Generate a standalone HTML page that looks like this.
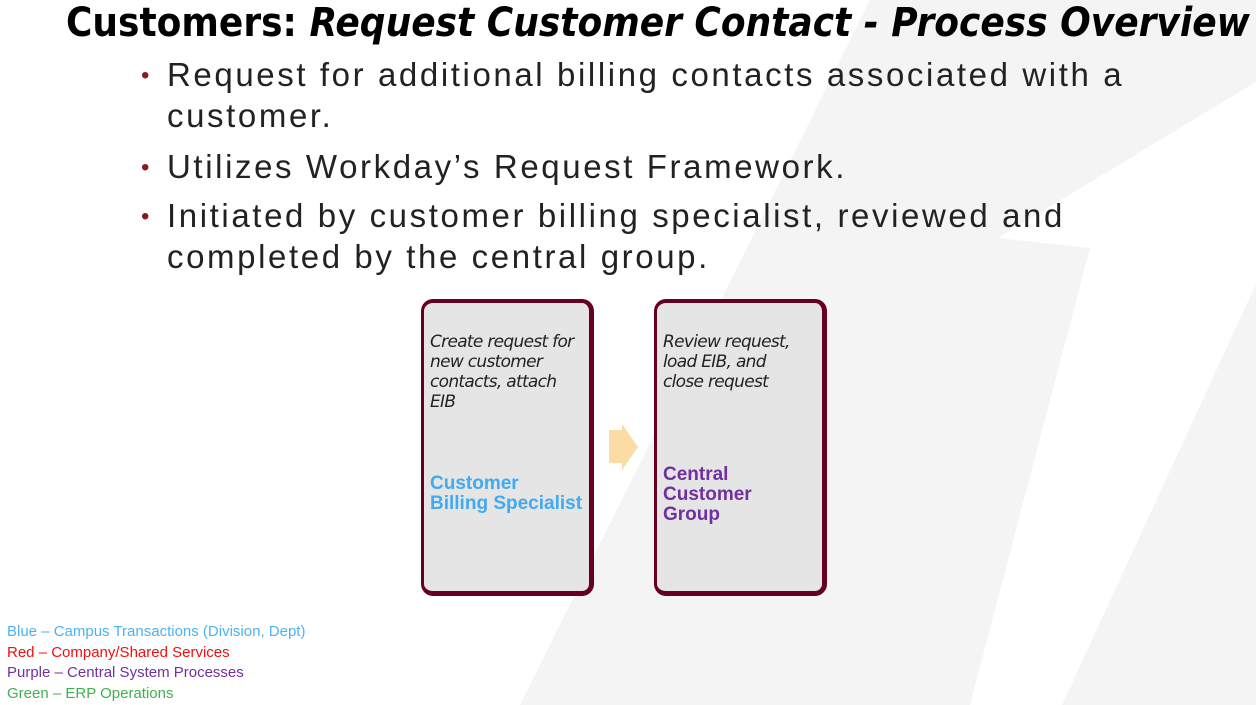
<!DOCTYPE html>
<html><head><meta charset="utf-8"><style>
html,body{margin:0;padding:0}
body{width:1256px;height:705px;position:relative;overflow:hidden;background:#fff;font-family:"Liberation Sans",sans-serif}
svg.bg{position:absolute;left:0;top:0}
.title{position:absolute;left:66px;top:0px;font-size:40px;font-weight:bold;color:#000;white-space:nowrap;font-family:"DejaVu Sans","Liberation Sans",sans-serif;transform:scaleX(0.9);transform-origin:0 0}
.b{position:absolute;left:167px;font-size:33px;color:#222;line-height:41px;letter-spacing:2.6px;white-space:nowrap}
.dot{position:absolute;left:141px;font-size:24px;color:#8b1a1a}
.box{position:absolute;top:299px;width:165px;height:288px;background:#e5e5e5;border:5px solid #650020;border-top-width:4px;border-left-width:3px;border-radius:12px}
.desc{position:absolute;left:6px;top:29px;font-family:"DejaVu Sans",sans-serif;font-style:italic;font-size:17px;line-height:20px;color:#222;letter-spacing:-0.7px;white-space:nowrap}
.role{position:absolute;left:6px;font-family:"Liberation Sans",sans-serif;font-weight:bold;font-size:19px;line-height:20px;white-space:nowrap}
.leg{position:absolute;left:7px;font-size:15px;white-space:nowrap}
</style></head><body>
<svg class="bg" width="1256" height="705">
<polygon points="870,0 1256,0 1256,705 520,705" fill="#f4f4f4"/>
<polygon points="1256,82 998,238 1090,248 970,705 1062,705 1256,284" fill="#fff"/>
<polygon points="609,430 622,430 622,424 638,447 622,470 622,463 609,463" fill="#fbdca4"/>
</svg>
<div class="title">Customers: <i>Request Customer Contact - Process Overview</i></div>
<div class="dot" style="top:62px">•</div>
<div class="b" style="top:54px">Request for additional billing contacts associated with a<br>customer.</div>
<div class="dot" style="top:154px">•</div>
<div class="b" style="top:146px">Utilizes Workday’s Request Framework.</div>
<div class="dot" style="top:203px">•</div>
<div class="b" style="top:195px">Initiated by customer billing specialist, reviewed and<br>completed by the central group.</div>
<div class="box" style="left:421px">
<div class="desc">Create request for<br>new customer<br>contacts, attach<br>EIB</div>
<div class="role" style="top:171px;color:#41aaf0">Customer<br>Billing Specialist</div>
</div>
<div class="box" style="left:654px">
<div class="desc">Review request,<br>load EIB, and<br>close request</div>
<div class="role" style="top:162px;color:#7030a0">Central<br>Customer<br>Group</div>
</div>
<div class="leg" style="top:623px;color:#4db3f0">Blue – Campus Transactions (Division, Dept)</div>
<div class="leg" style="top:644px;color:#f01010">Red – Company/Shared Services</div>
<div class="leg" style="top:664px;color:#7030a0">Purple – Central System Processes</div>
<div class="leg" style="top:685px;color:#40b050">Green – ERP Operations</div>
</body></html>
